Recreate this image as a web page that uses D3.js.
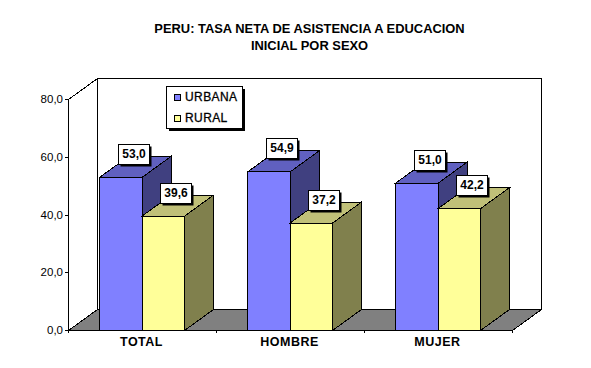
<!DOCTYPE html>
<html><head><meta charset="utf-8">
<style>html,body{margin:0;padding:0;background:#fff}svg{display:block}
text{font-family:"Liberation Sans",Arial,sans-serif;fill:#000}</style>
<script src="https://cdn.jsdelivr.net/npm/d3@7"></script></head><body>
<script>
const categories = ["TOTAL","HOMBRE","MUJER"];
const seriesNames = ["URBANA","RURAL"];
const urbana = [53.0,54.9,51.0];
const rural = [39.6,37.2,42.2];
const yTicks = [0,20,40,60,80];
const titleLines = ["PERU: TASA NETA DE ASISTENCIA A EDUCACION","INICIAL POR SEXO"];
const colors = {URBANA:{front:"#8080ff",top:"#6060c0",side:"#404080"},RURAL:{front:"#ffff99",top:"#c0c078",side:"#80804d"}};
const fmt = v => d3.format(".1f")(v).replace(".",",");

const W=591,H=368,dx=29,dy=21;
const svg=d3.select("body").append("svg").attr("width",W).attr("height",H);
const x=d3.scaleBand().domain(categories).range([68,512]);
const s=d3.scaleBand().domain(seriesNames).range([31,x.bandwidth()-32]);
const y=d3.scaleLinear().domain([0,80]).range([330,99]);
const geo=svg.append("g").attr("transform","translate(.5,.5)").attr("shape-rendering","crispEdges");
const L=x.range()[0],R=x.range()[1],B=y(0),T=y(80);
const poly=(pts,fill)=>geo.append("polygon").attr("points",pts.map(p=>p.join(",")).join(" ")).attr("fill",fill).attr("stroke","#000").attr("stroke-width",1);

// walls and floor
poly([[L+dx,T-dy],[R+dx,T-dy],[R+dx,B-dy],[L+dx,B-dy]],"#fff");
poly([[L,T],[L+dx,T-dy],[L+dx,B-dy],[L,B]],"#fff");
poly([[L,B],[L+dx,B-dy],[R+dx,B-dy],[R,B]],"#808080");

// axes
const ay=d3.axisLeft(y).tickValues(yTicks).tickFormat(fmt).tickSize(3);
const gy=svg.append("g").attr("transform",`translate(${L},0)`).attr("shape-rendering","crispEdges").call(ay);
gy.selectAll("text").attr("font-size",11.5).attr("dx",1);
const ax=d3.axisBottom(x).tickSize(3).tickFormat(d=>d);
const gx=svg.append("g").attr("transform",`translate(0,${B})`).attr("shape-rendering","crispEdges").call(ax);
gx.selectAll(".tick").remove();
gx.selectAll(".cat-tick").data(x.domain().concat(["_end"])).join("line")
  .attr("x1",d=>(d==="_end"?R:x(d))+.5).attr("x2",d=>(d==="_end"?R:x(d))+.5).attr("y1",0).attr("y2",3).attr("stroke","#000");
gx.selectAll(".cat").data(categories).join("text").attr("class","cat")
  .attr("x",d=>x(d)+x.bandwidth()/2-.5).attr("y",16).attr("text-anchor","middle")
  .attr("font-size",12.5).attr("font-weight","bold").attr("letter-spacing",.5).attr("font-family",'"Liberation Sans"').text(d=>d);
svg.selectAll(".domain").attr("stroke","#000");

// bars
const series=[["URBANA",urbana],["RURAL",rural]];
categories.forEach((c,i)=>{
  series.forEach(([n,vals])=>{
    const x0=x(c)+s(n),x1=x0+s.bandwidth(),t=y(vals[i]),col=colors[n];
    poly([[x1,t],[x1+dx,t-dy],[x1+dx,B-dy],[x1,B]],col.side);
    poly([[x0,t],[x0+dx,t-dy],[x1+dx,t-dy],[x1,t]],col.top);
    poly([[x0,t],[x1,t],[x1,B],[x0,B]],col.front);
  });
});
// value labels
categories.forEach((c,i)=>{
  series.forEach(([n,vals])=>{
    const cx=x(c)+s(n)+s.bandwidth()/2+dx/2-1.6,t=Math.round(y(vals[i])-dy/2-2.5),w=31,h=20;
    const bx=Math.round(cx-w/2);
    const g=svg.append("g");
    g.append("rect").attr("x",bx+2.5).attr("y",t-h+2.5).attr("width",w).attr("height",h).attr("fill","#000");
    g.append("rect").attr("x",bx+.5).attr("y",t-h+.5).attr("width",w).attr("height",h).attr("fill","#fff").attr("stroke","#000").attr("shape-rendering","crispEdges");
    g.append("text").attr("x",bx+w/2+.5).attr("y",t-6).attr("text-anchor","middle").attr("font-size",12).attr("font-weight","bold").text(fmt(vals[i]));
  });
});
// legend
const lg=svg.append("g").attr("shape-rendering","crispEdges");
lg.append("rect").attr("x",169).attr("y",89).attr("width",76).attr("height",42).attr("fill","#000");
lg.append("rect").attr("x",166.5).attr("y",86.5).attr("width",76).attr("height",42).attr("fill","#fff").attr("stroke","#000");
seriesNames.forEach((n,i)=>{
  lg.append("rect").attr("x",174.5).attr("y",94.5+i*21).attr("width",6).attr("height",6).attr("fill",colors[n].front).attr("stroke","#000");
  lg.append("text").attr("x",185).attr("y",101+i*20.5).attr("font-size",12).attr("letter-spacing",.4).attr("stroke","#000").attr("stroke-width",.3).text(n);
});
// title
svg.append("g").selectAll("text").data(titleLines).join("text")
  .attr("x",309.5).attr("y",(d,i)=>33+i*17).attr("text-anchor","middle")
  .attr("font-size",12.9).attr("font-weight","bold").text(d=>d);
</script></body></html>
